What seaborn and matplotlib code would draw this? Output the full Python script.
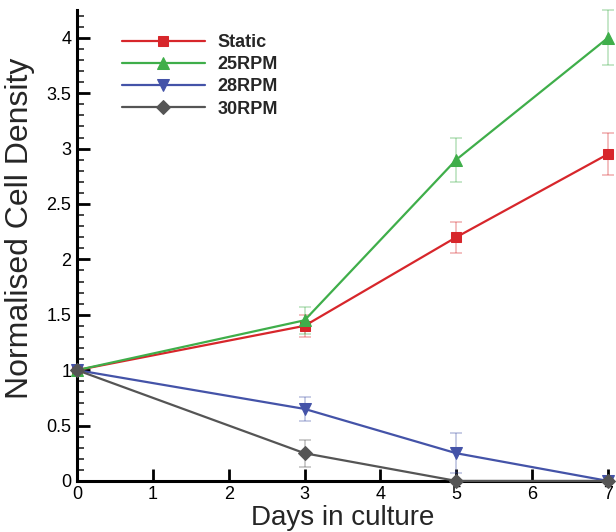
import numpy as np
import pandas as pd
import matplotlib
matplotlib.use("Agg")
import matplotlib.pyplot as plt
import seaborn as sns
from matplotlib.ticker import MultipleLocator

days = [0, 3, 5, 7]
series_names = ["Static", "25RPM", "28RPM", "30RPM"]
static_vals = [1.0, 1.40, 2.20, 2.95]
rpm25_vals = [1.0, 1.45, 2.90, 4.00]
rpm28_vals = [1.0, 0.65, 0.25, 0.0]
rpm30_vals = [1.0, 0.25, 0.0, 0.0]
static_err = [0.0, 0.10, 0.14, 0.19]
rpm25_err = [0.0, 0.12, 0.20, 0.25]
rpm28_err = [0.0, 0.11, 0.18, 0.0]
rpm30_err = [0.0, 0.12, 0.0, 0.0]

colors = ["#d7262b", "#3fae4a", "#4453a8", "#555555"]
markers = ["s", "^", "v", "D"]
msizes = [6.5, 8, 8, 7.5]

vals = [static_vals, rpm25_vals, rpm28_vals, rpm30_vals]
errs = [static_err, rpm25_err, rpm28_err, rpm30_err]

df = pd.DataFrame({
    "day": days * 4,
    "value": static_vals + rpm25_vals + rpm28_vals + rpm30_vals,
    "series": [s for s in series_names for _ in days],
})

sns.set_style("ticks")
plt.rcParams["font.family"] = ["Liberation Sans", "DejaVu Sans"]

fig = plt.figure(figsize=(6.16, 5.32), dpi=100)
ax = fig.add_axes([0.125, 0.096, 0.862, 0.885])

# error bars
for v, e, c in zip(vals, errs, colors):
    ax.errorbar(days, v, yerr=e, fmt="none", ecolor=c, alpha=0.35,
                elinewidth=1.2, capsize=4, capthick=1.2, zorder=2, clip_on=False)

for name, c, m, ms in zip(series_names, colors, markers, msizes):
    sub = df[df["series"] == name]
    sns.lineplot(data=sub, x="day", y="value", ax=ax, color=c, marker=m,
                 markersize=ms, markeredgecolor=c, linewidth=1.6, label=name,
                 clip_on=False, zorder=3)

ax.set_xlim(0, 7)
ax.set_ylim(0, 4.25)
ax.set_xticks(range(0, 8))
ax.yaxis.set_minor_locator(MultipleLocator(0.1))
ax.set_yticks([0, 0.5, 1, 1.5, 2, 2.5, 3, 3.5, 4])
ax.set_yticklabels(["0", "0.5", "1", "1.5", "2", "2.5", "3", "3.5", "4"])

sns.despine(ax=ax)
for sp in ["left", "bottom"]:
    ax.spines[sp].set_linewidth(2.2)
    ax.spines[sp].set_color("black")

ax.tick_params(axis="both", which="major", direction="in", length=9, width=2,
               labelsize=13, colors="black", pad=4)
ax.tick_params(axis="y", which="minor", direction="in", length=5, width=1.2)
ax.tick_params(axis="x", which="minor", bottom=False)

ax.set_xlabel("Days in culture", fontsize=20, labelpad=1)
ax.set_ylabel("Normalised Cell Density", fontsize=23)
ax.yaxis.set_label_coords(-0.079, 0.537)

leg = ax.legend(loc="upper left", bbox_to_anchor=(0.054, 0.983), frameon=False,
                handlelength=4.6, handletextpad=0.7, labelspacing=0.28,
                prop={"weight": "bold", "size": 13})

fig.savefig("out.png", dpi=100)
